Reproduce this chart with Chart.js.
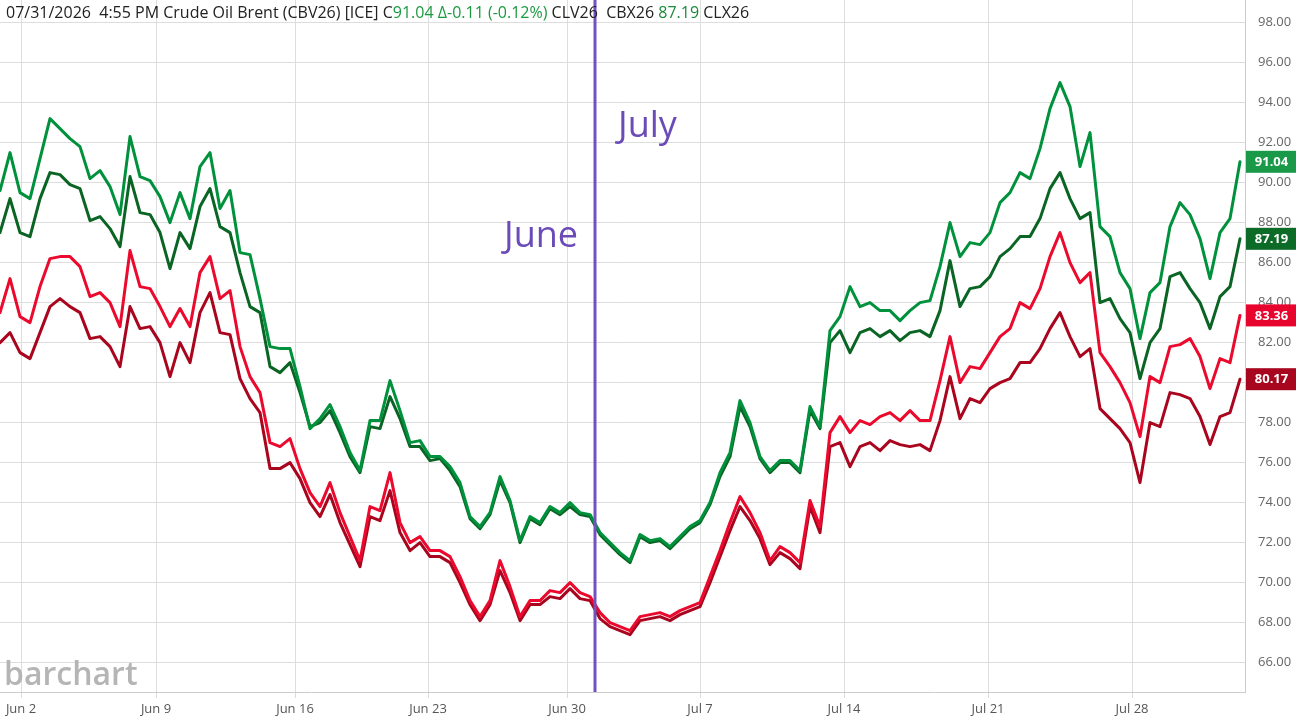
<!DOCTYPE html>
<html>
<head>
<meta charset="utf-8">
<title>Crude Oil Brent</title>
<script src="https://cdn.jsdelivr.net/npm/chart.js@4.4.0/dist/chart.umd.min.js"></script>
<style>
  html, body { margin: 0; padding: 0; background: #fff; }
  #wrap { width: 1296px; height: 721px; }
</style>
</head>
<body>
<div id="wrap"><canvas id="myChart" width="1296" height="721"></canvas></div>
<script>
// prices sampled along the session axis (one sample per bar)
const cbv26 = [
    89.6, 91.5, 89.5, 89.2, 91.2, 93.2, 92.7, 92.2, 91.8, 90.2,
    90.6, 89.8, 88.4, 92.3, 90.3, 90.1, 89.3, 88.0, 89.5, 88.2,
    90.8, 91.5, 88.7, 89.6, 86.5, 86.4, 84.2, 81.8, 81.7, 81.7,
    79.8, 77.7, 78.2, 78.9, 77.8, 76.5, 75.6, 78.1, 78.1, 80.1,
    78.6, 77.0, 77.1, 76.3, 76.3, 75.8, 75.0, 73.3, 72.8, 73.5,
    75.3, 74.1, 72.1, 73.3, 73.0, 73.8, 73.5, 74.0, 73.5, 73.4,
    72.5, 72.0, 71.5, 71.1, 72.4, 72.1, 72.2, 71.8, 72.3, 72.8,
    73.1, 74.0, 75.5, 76.5, 79.1, 78.0, 76.3, 75.6, 76.1, 76.1,
    75.6, 78.8, 77.8, 82.6, 83.3, 84.8, 83.8, 84.0, 83.6, 83.6,
    83.1, 83.6, 84.0, 84.1, 85.8, 88.0, 86.3, 87.0, 86.9, 87.5,
    89.0, 89.5, 90.5, 90.2, 91.7, 93.7, 95.0, 93.8, 90.8, 92.5,
    87.8, 87.3, 85.5, 84.7, 82.2, 84.5, 85.0, 87.8, 89.0, 88.4,
    87.2, 85.2, 87.5, 88.2, 91.04
];
const cbx26 = [
    87.5, 89.2, 87.5, 87.3, 89.2, 90.5, 90.4, 89.9, 89.7, 88.1,
    88.3, 87.7, 86.8, 90.3, 88.5, 88.4, 87.5, 85.7, 87.5, 86.7,
    88.8, 89.7, 87.8, 87.5, 85.5, 83.8, 83.5, 80.8, 80.5, 81.0,
    79.5, 77.8, 78.0, 78.6, 77.5, 76.3, 75.5, 77.8, 77.7, 79.3,
    78.2, 76.8, 76.8, 76.1, 76.2, 75.6, 74.8, 73.2, 72.7, 73.4,
    75.1, 74.0, 72.0, 73.2, 72.9, 73.7, 73.4, 73.8, 73.4, 73.3,
    72.4, 71.9, 71.4, 71.0, 72.3, 72.0, 72.1, 71.7, 72.2, 72.7,
    73.0, 73.9, 75.3, 76.3, 78.8, 77.8, 76.2, 75.5, 76.0, 76.0,
    75.5, 78.6, 77.7, 82.0, 82.6, 81.5, 82.5, 82.7, 82.3, 82.6,
    82.1, 82.5, 82.6, 82.3, 83.6, 86.1, 83.8, 84.7, 84.8, 85.3,
    86.3, 86.7, 87.3, 87.3, 88.2, 89.7, 90.5, 89.2, 88.2, 88.5,
    84.0, 84.2, 83.2, 82.5, 80.2, 82.0, 82.7, 85.3, 85.5, 84.7,
    84.0, 82.7, 84.3, 84.8, 87.19
];
const clv26 = [
    83.5, 85.2, 83.3, 83.0, 84.8, 86.2, 86.3, 86.3, 85.8, 84.3,
    84.5, 84.0, 82.8, 86.6, 84.8, 84.7, 83.8, 82.8, 83.7, 82.8,
    85.5, 86.3, 84.2, 84.6, 81.8, 80.3, 79.5, 77.0, 76.8, 77.2,
    75.7, 74.5, 73.8, 75.0, 73.5, 72.3, 71.1, 73.8, 73.6, 75.5,
    73.0, 72.0, 72.3, 71.6, 71.6, 71.3, 70.3, 69.1, 68.3, 69.1,
    71.1, 69.8, 68.3, 69.1, 69.1, 69.6, 69.5, 70.0, 69.5, 69.3,
    68.5, 68.0, 67.8, 67.6, 68.3, 68.4, 68.5, 68.3, 68.6, 68.8,
    69.0, 70.3, 71.6, 73.0, 74.3, 73.5, 72.5, 71.1, 71.8, 71.5,
    71.0, 74.1, 72.8, 77.5, 78.3, 77.5, 78.1, 77.9, 78.3, 78.5,
    78.1, 78.6, 78.1, 78.1, 80.1, 82.3, 80.0, 80.8, 80.7, 81.5,
    82.3, 82.7, 84.0, 83.7, 84.7, 86.3, 87.5, 86.0, 85.0, 85.5,
    81.5, 80.8, 80.0, 79.0, 77.3, 80.3, 80.0, 81.8, 81.9, 82.2,
    81.3, 79.7, 81.2, 81.0, 83.36
];
const clx26 = [
    82.0, 82.5, 81.5, 81.2, 82.5, 83.8, 84.2, 83.8, 83.5, 82.2,
    82.3, 81.8, 80.8, 83.8, 82.7, 82.8, 82.0, 80.3, 82.0, 81.0,
    83.5, 84.5, 82.5, 82.4, 80.2, 79.2, 78.5, 75.7, 75.7, 76.0,
    75.2, 74.0, 73.3, 74.4, 73.0, 71.9, 70.8, 73.3, 73.1, 74.6,
    72.5, 71.6, 72.0, 71.3, 71.3, 71.0, 70.0, 68.9, 68.1, 68.9,
    70.6, 69.5, 68.1, 68.9, 68.9, 69.3, 69.2, 69.7, 69.2, 69.1,
    68.2, 67.8, 67.6, 67.4, 68.1, 68.2, 68.3, 68.1, 68.4, 68.6,
    68.8, 70.0, 71.3, 72.6, 73.8, 73.1, 72.2, 70.9, 71.5, 71.2,
    70.7, 73.8, 72.5, 76.8, 77.0, 75.8, 76.8, 77.0, 76.6, 77.1,
    76.9, 76.8, 76.9, 76.6, 78.1, 80.3, 78.2, 79.2, 79.0, 79.7,
    80.0, 80.2, 81.0, 81.0, 81.7, 82.7, 83.5, 82.3, 81.3, 81.7,
    78.7, 78.2, 77.7, 77.0, 75.0, 78.0, 77.8, 79.5, 79.4, 79.2,
    78.3, 76.9, 78.3, 78.5, 80.17
];

// x axis: bar index, ticks at the first bar of each week label
const tickPos = [2.1, 15.6, 29.5, 42.8, 56.7, 70.0, 84.4, 98.8, 113.2];
const tickLabels = ['Jun 2', 'Jun 9', 'Jun 16', 'Jun 23', 'Jun 30', 'Jul 7', 'Jul 14', 'Jul 21', 'Jul 28'];
const yTicks = [66, 68, 70, 72, 74, 76, 78, 80, 82, 84, 86, 88, 90, 92, 94, 96, 98];
const monthSplit = 59.5;   // first bar of the July session
const monthNotes = [
    { text: 'June', value: 86.8, side: 'left' },
    { text: 'July', value: 92.3, side: 'right' }
];

const titleParts = [
    ['07/31/2026  4:55 PM Crude Oil Brent (CBV26) [ICE] C', '#222222'],
    ['91.04 \u0394-0.11 (-0.12%)', '#1a9a3e'],
    [' CLV26  CBX26 ', '#222222'],
    ['87.19', '#1a8a3a'],
    [' CLX26', '#222222']
];

const lineColors = ['#00913c', '#0a6423', '#eb0a2d', '#aa051e'];
const boxColors = ['#1a9a48', '#0d6b28', '#e8052d', '#a8061e'];

function toPoints(values) {
    return values.map((v, i) => ({ x: i, y: v }));
}

const overlay = {
    id: 'overlay',
    afterDatasetsDraw(chart) {
        const c = chart.ctx;
        const area = chart.chartArea;
        const xs = chart.scales.x;
        const ys = chart.scales.y;
        const sx = xs.getPixelForValue(monthSplit);

        c.save();
        c.strokeStyle = '#7451c1';
        c.lineWidth = 3;
        c.beginPath();
        c.moveTo(sx, area.top);
        c.lineTo(sx, area.bottom);
        c.stroke();

        c.fillStyle = '#6a4bb8';
        c.font = '36px "Open Sans"';
        c.textBaseline = 'alphabetic';
        monthNotes.forEach(n => {
            const y = ys.getPixelForValue(n.value);
            if (n.side === 'left') {
                c.textAlign = 'right';
                c.fillText(n.text, sx - 17, y);
            } else {
                c.textAlign = 'left';
                c.fillText(n.text, sx + 23, y);
            }
        });
        c.restore();
    },
    afterDraw(chart) {
        const c = chart.ctx;
        const area = chart.chartArea;
        const ys = chart.scales.y;

        c.save();
        // last value boxes
        c.font = 'bold 13px "Open Sans"';
        c.textAlign = 'center';
        c.textBaseline = 'middle';
        chart.data.datasets.forEach((ds, i) => {
            const last = ds.data[ds.data.length - 1].y;
            const y = ys.getPixelForValue(last);
            c.fillStyle = boxColors[i];
            c.fillRect(area.right + 1, y - 11, chart.width - area.right - 1, 22);
            c.fillStyle = '#ffffff';
            c.fillText(last.toFixed(2), (area.right + chart.width) / 2 + 1, y + 0.5);
        });

        // title line
        c.font = '16px "Open Sans"';
        c.textAlign = 'left';
        c.textBaseline = 'alphabetic';
        let x = 6;
        titleParts.forEach(([txt, col]) => {
            c.fillStyle = col;
            c.fillText(txt, x, 18);
            x += c.measureText(txt).width;
        });

        // watermark
        c.font = '600 32px "Open Sans"';
        c.fillStyle = '#b5b5b5';
        c.fillText('barchart', 4, 685);
        c.restore();
    }
};

const ctx = document.getElementById('myChart').getContext('2d');
const chart = new Chart(ctx, {
    type: 'line',
    data: {
        datasets: [
            { label: 'CBV26', data: toPoints(cbv26), borderColor: lineColors[0] },
            { label: 'CBX26', data: toPoints(cbx26), borderColor: lineColors[1] },
            { label: 'CLV26', data: toPoints(clv26), borderColor: lineColors[2] },
            { label: 'CLX26', data: toPoints(clx26), borderColor: lineColors[3] }
        ]
    },
    options: {
        responsive: false,
        animation: false,
        layout: { padding: 0 },
        elements: {
            line: { borderWidth: 3, tension: 0, fill: false, borderJoinStyle: 'round', borderCapStyle: 'round' },
            point: { radius: 0, hoverRadius: 0 }
        },
        plugins: {
            legend: { display: false },
            title: { display: false },
            tooltip: { enabled: false }
        },
        scales: {
            x: {
                type: 'linear',
                min: 0,
                max: 124.5,
                afterBuildTicks: s => { s.ticks = tickPos.map(v => ({ value: v })); },
                afterFit: s => { s.height = 29; s.paddingLeft = 0; s.paddingRight = 0; },
                grid: { color: '#dddddd', tickLength: 6 },
                border: { display: true, color: '#cccccc' },
                ticks: {
                    padding: 3,
                    color: '#555555',
                    font: { family: 'Open Sans', size: 13 },
                    maxRotation: 0,
                    autoSkip: false,
                    callback: (v, i) => tickLabels[i]
                }
            },
            y: {
                position: 'right',
                min: 64.53,
                max: 99.13,
                afterBuildTicks: s => { s.ticks = yTicks.map(v => ({ value: v })); },
                afterFit: s => { s.width = 51; s.paddingTop = 0; s.paddingBottom = 0; },
                grid: { color: '#dddddd', drawTicks: false },
                border: { display: true, color: '#cccccc' },
                ticks: {
                    padding: 13,
                    color: '#666666',
                    font: { family: 'Open Sans', size: 13 },
                    callback: v => Number(v).toFixed(2)
                }
            }
        }
    },
    plugins: [overlay]
});
</script>
</body>
</html>
